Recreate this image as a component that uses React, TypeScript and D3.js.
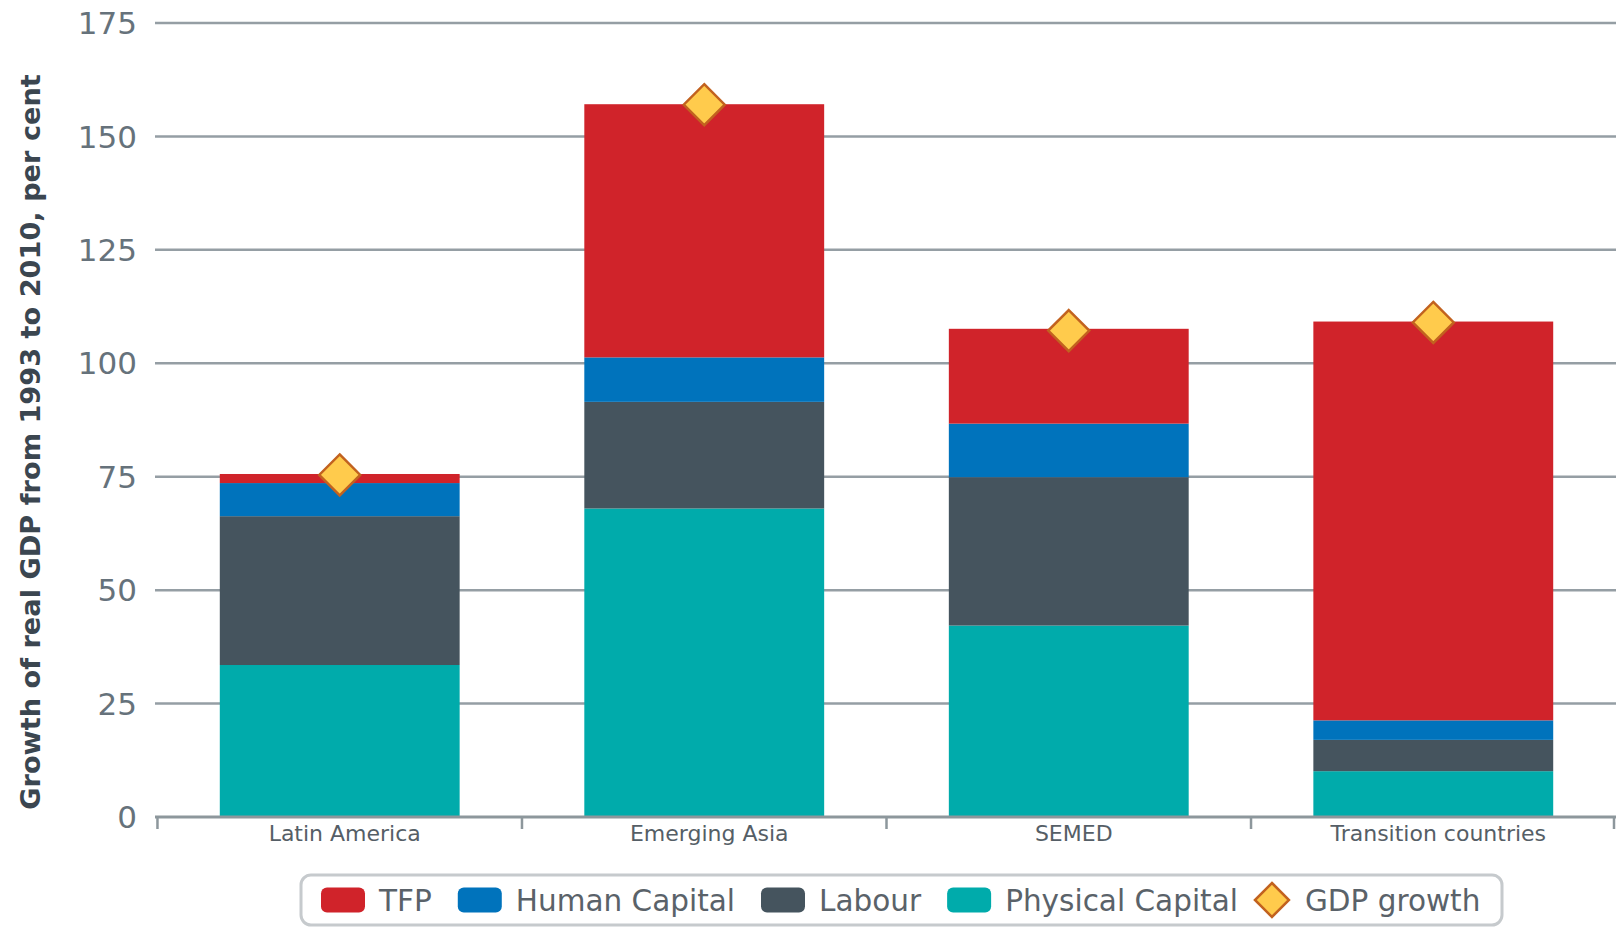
import React, { useEffect, useRef } from "react";
import * as d3 from "d3";

const categories = ["Latin America", "Emerging Asia", "SEMED", "Transition countries"];
const physicalCapital = [33.5, 68.0, 42.2, 10.1];
const labour = [32.8, 23.5, 32.7, 6.9];
const humanCapital = [7.3, 9.8, 11.8, 4.3];
const tfp = [2.0, 55.8, 20.9, 87.9];
const gdpGrowth = [75.4, 157.0, 107.2, 109.0];
const yTicks = [0, 25, 50, 75, 100, 125, 150, 175];

const seriesNames = ["Physical Capital", "Labour", "Human Capital", "TFP"];
const seriesColors = ["#00abab", "#45545e", "#0073bc", "#d0232a"];
const legendOrder = ["TFP", "Human Capital", "Labour", "Physical Capital"];

const W = 1616;
const H = 928;
const FONT = "'DejaVu Sans', Verdana, sans-serif";

export default function App() {
  const ref = useRef<SVGSVGElement | null>(null);

  useEffect(() => {
    const svg = d3.select(ref.current);
    svg.selectAll("*").remove();

    const x = d3
      .scaleBand<string>()
      .domain(categories)
      .range([156, 1617])
      .paddingInner(0.342)
      .paddingOuter(0.175);
    const y = d3.scaleLinear().domain([0, 175]).range([817, 23]);

    // gridlines
    svg
      .append("g")
      .selectAll("line")
      .data(yTicks.filter((t) => t !== 0))
      .join("line")
      .attr("x1", 155)
      .attr("x2", W)
      .attr("y1", (d) => y(d))
      .attr("y2", (d) => y(d))
      .attr("stroke", "#959ea4")
      .attr("stroke-width", 2.5);

    // tick labels
    svg
      .append("g")
      .selectAll("text")
      .data(yTicks)
      .join("text")
      .attr("x", 137)
      .attr("y", (d) => y(d))
      .attr("dy", "0.36em")
      .attr("text-anchor", "end")
      .attr("font-family", FONT)
      .attr("font-size", 31)
      .attr("fill", "#66727b")
      .text((d) => String(d));

    // y title
    svg
      .append("text")
      .attr("transform", `translate(30,442) rotate(-90)`)
      .attr("text-anchor", "middle")
      .attr("dy", "0.36em")
      .attr("font-family", FONT)
      .attr("font-weight", "bold")
      .attr("font-size", 27.2)
      .attr("fill", "#3b4650")
      .text("Growth of real GDP from 1993 to 2010, per cent");

    // stacked bars
    const rows = categories.map((c, i) => ({
      cat: c,
      "Physical Capital": physicalCapital[i],
      Labour: labour[i],
      "Human Capital": humanCapital[i],
      TFP: tfp[i],
    }));
    const stack = d3.stack<any>().keys(seriesNames);
    const stacked = stack(rows);
    stacked.forEach((layer, li) => {
      svg
        .append("g")
        .attr("fill", seriesColors[li])
        .selectAll("rect")
        .data(layer)
        .join("rect")
        .attr("x", (d: any) => x(d.data.cat)!)
        .attr("width", x.bandwidth())
        .attr("y", (d) => y(d[1]))
        .attr("height", (d) => y(d[0]) - y(d[1]));
    });

    // axis baseline and ticks
    svg
      .append("line")
      .attr("x1", 155)
      .attr("x2", W)
      .attr("y1", y(0))
      .attr("y2", y(0))
      .attr("stroke", "#8d979c")
      .attr("stroke-width", 3);
    const step = x.step();
    const gap = step - x.bandwidth();
    const bounds = categories.map((c) => x(c)! - gap / 2);
    bounds.push(x(categories[categories.length - 1])! + x.bandwidth() + gap / 2);
    svg
      .append("g")
      .selectAll("line")
      .data(bounds)
      .join("line")
      .attr("x1", (d) => Math.min(d, W - 2))
      .attr("x2", (d) => Math.min(d, W - 2))
      .attr("y1", y(0))
      .attr("y2", y(0) + 12)
      .attr("stroke", "#8d979c")
      .attr("stroke-width", 2.5);

    svg
      .append("g")
      .selectAll("text")
      .data(categories)
      .join("text")
      .attr("x", (d) => x(d)! + x.bandwidth() / 2 + 5)
      .attr("y", 833)
      .attr("dy", "0.36em")
      .attr("text-anchor", "middle")
      .attr("font-family", FONT)
      .attr("font-size", 22)
      .attr("fill", "#555e66")
      .text((d) => d);

    // GDP diamonds
    const diamond = (cx: number, cy: number, r: number) =>
      `M${cx},${cy - r}L${cx + r},${cy}L${cx},${cy + r}L${cx - r},${cy}Z`;
    svg
      .append("g")
      .selectAll("path")
      .data(gdpGrowth)
      .join("path")
      .attr("d", (d, i) => diamond(x(categories[i])! + x.bandwidth() / 2, y(d), 20.5))
      .attr("fill", "#ffcb4c")
      .attr("stroke", "#c2621f")
      .attr("stroke-width", 2.5)
      .attr("stroke-linejoin", "miter");

    // legend
    const lg = svg.append("g");
    lg.append("rect")
      .attr("x", 301)
      .attr("y", 875)
      .attr("width", 1201)
      .attr("height", 50)
      .attr("rx", 10)
      .attr("fill", "none")
      .attr("stroke", "#c6cacd")
      .attr("stroke-width", 3);
    let cx = 321;
    const cy = 900;
    const items: { name: string; kind: string; color?: string }[] = legendOrder.map((n) => ({
      name: n,
      kind: "rect",
      color: seriesColors[seriesNames.indexOf(n)],
    }));
    items.push({ name: "GDP growth", kind: "diamond" });
    items.forEach((it, idx) => {
      if (it.kind === "rect") {
        lg.append("rect")
          .attr("x", cx)
          .attr("y", cy - 12.5)
          .attr("width", 44)
          .attr("height", 25)
          .attr("rx", 6)
          .attr("fill", it.color!);
        cx += 44 + 14;
      } else {
        lg.append("path")
          .attr("d", diamond(cx + 17, cy, 17))
          .attr("fill", "#ffcb4c")
          .attr("stroke", "#c2621f")
          .attr("stroke-width", 2.5);
        cx += 34 + 16;
      }
      const t = lg
        .append("text")
        .attr("x", cx)
        .attr("y", cy)
        .attr("dy", "0.36em")
        .attr("font-family", FONT)
        .attr("font-size", 29.5)
        .attr("fill", "#5a6269")
        .text(it.name);
      const len = (t.node() as SVGTextElement).getComputedTextLength();
      const next = items[idx + 1];
      cx += len + (next && next.kind === "diamond" ? 17 : 26);
    });
  }, []);

  return (
    <svg
      ref={ref}
      width={W}
      height={H}
      style={{ position: "absolute", left: 0, top: 0, background: "#fff" }}
    />
  );
}
